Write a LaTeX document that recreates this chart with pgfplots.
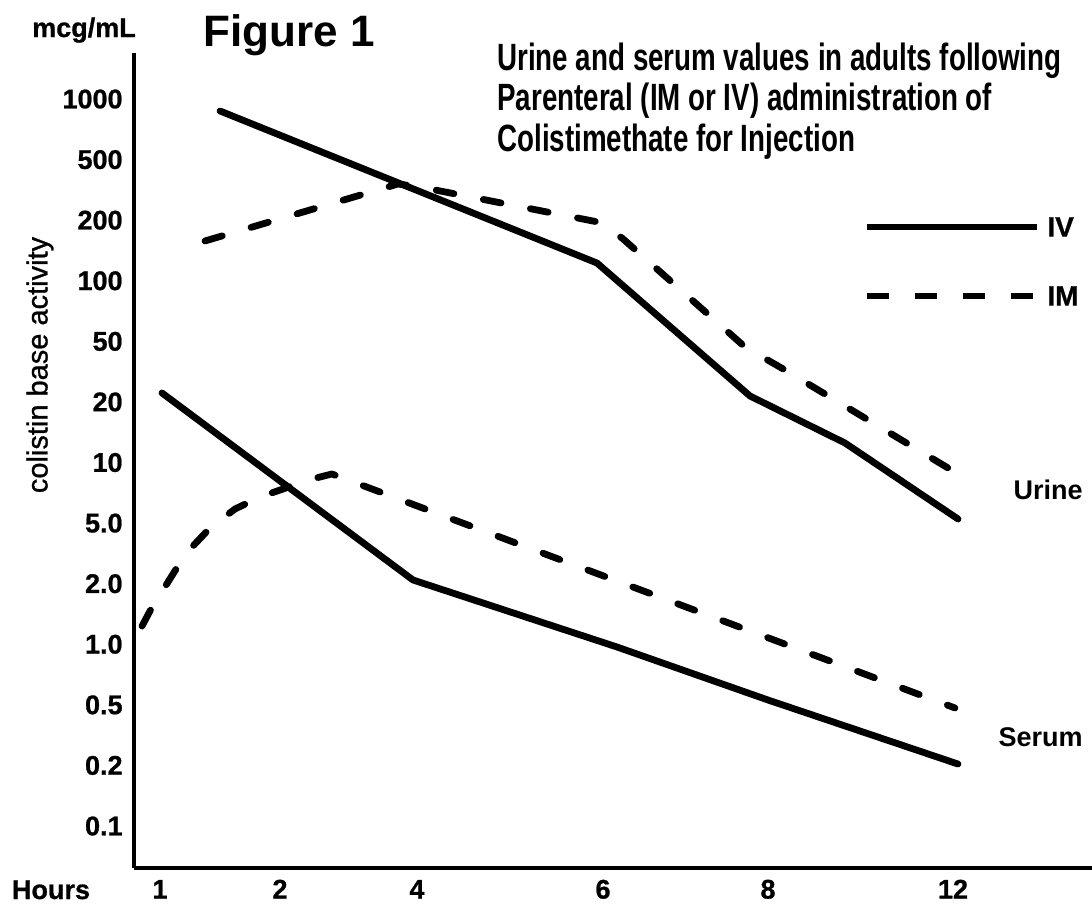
\documentclass[border=0pt]{standalone}
\usepackage{fontspec}
\setmainfont{Liberation Sans}
\newfontfamily\condfont[FakeStretch=0.73]{Liberation Sans}
\newfontfamily\heavyfont[BoldFeatures={FakeBold=0.8}]{Liberation Sans}
\newfontfamily\medfont[FakeBold=0.9]{Liberation Sans}
\usepackage{pgfplots}
\pgfplotsset{compat=1.18}
\begin{document}
\begin{tikzpicture}
\begin{axis}[
  x=0.5pt, y=30.29pt,
  xmin=134, xmax=1092, ymin=-0.693, ymax=12.76,
  axis x line=bottom, axis y line=left,
  axis line style={line width=1.8pt, -},
  xtick={160,280,417,603,768,953},
  xticklabels={1,2,4,6,8,12},
  ytick={0,1,2,3,4,5,6,7,8,9,10,11,12},
  yticklabels={0.1,0.2,0.5,1.0,2.0,5.0,10,20,50,100,200,500,1000},
  major tick length=0pt,
  /pgf/number format/assume math mode=true,
  tick label style={font=\heavyfont\bfseries\fontsize{13.5}{13.5}\selectfont},
  yticklabel style={anchor=east, inner sep=0pt, xshift=-5.5pt},
  xticklabel style={anchor=base, inner sep=0pt, yshift=-15.3pt},
  clip=false,
  cycle list={{black, no markers}},
  every axis plot/.append style={black, no markers, line width=3.4pt, line cap=round, line join=round},
]
% Urine, IV
\addplot[black, no markers, solid] coordinates {(220,11.803) (597,9.293) (750,7.098) (845,6.322) (958,5.068)};
% Urine, IM
\addplot[black, no markers, dash pattern=on 9pt off 15pt] coordinates {(205,9.657) (398,10.598) (420,10.548) (598,9.970) (622,9.706) (745,7.907) (785,7.527) (958,5.811)};
% Serum, IV
\addplot[black, no markers, solid] coordinates {(162,7.148) (413,4.061) (617,2.955) (768,2.080) (958,1.023)};
% Serum, IM
\addplot[black, no markers, dash pattern=on 9pt off 15pt] coordinates {(142,3.300) (150,3.549) (163,3.896) (178,4.292) (193,4.622) (210,4.919) (235,5.233) (260,5.431) (283,5.563) (308,5.711) (332,5.811) (955,1.948)};
% legend samples
\addplot[black, no markers, solid, line cap=butt] coordinates {(867,9.888) (1037,9.888)};
\addplot[black, no markers, line cap=butt, dash pattern=on 11pt off 13pt] coordinates {(867,8.749) (1037,8.749)};
\node[anchor=west, inner sep=0pt, font=\heavyfont\bfseries\fontsize{14}{14}\selectfont] at (axis cs:1047,9.888) {IV};
\node[anchor=west, inner sep=0pt, font=\heavyfont\bfseries\fontsize{14}{14}\selectfont] at (axis cs:1047,8.749) {IM};
% labels
\node[anchor=east, inner sep=0pt, font=\bfseries\fontsize{13.5}{13.5}\selectfont] at (axis cs:1083,5.55) {Urine};
\node[anchor=east, inner sep=0pt, font=\bfseries\fontsize{13.5}{13.5}\selectfont] at (axis cs:1083,1.469) {Serum};
\node[anchor=base, inner sep=0pt, font=\heavyfont\bfseries\fontsize{13.5}{13.5}\selectfont] at (axis cs:51,-1.205) {Hours};
\node[anchor=base, inner sep=0pt, font=\heavyfont\bfseries\fontsize{13.5}{13.5}\selectfont] at (axis cs:84,13.024) {mcg/mL};
\node[anchor=base west, inner sep=0pt, font=\bfseries\fontsize{22}{22}\selectfont] at (axis cs:203,12.859) {Figure 1};
\node[anchor=center, rotate=90, inner sep=0pt, font=\medfont\fontsize{14.5}{14.5}\selectfont] at (axis cs:40,7.61) {colistin base activity};
\node[anchor=base west, inner sep=0pt, font=\condfont\bfseries\fontsize{19}{19}\selectfont] at (axis cs:497,12.479) {Urine and serum values in adults following};
\node[anchor=base west, inner sep=0pt, font=\condfont\bfseries\fontsize{19}{19}\selectfont] at (axis cs:497,11.811) {Parenteral (IM or IV) administration of};
\node[anchor=base west, inner sep=0pt, font=\condfont\bfseries\fontsize{19}{19}\selectfont] at (axis cs:497,11.142) {Colistimethate for Injection};
\coordinate (bl) at (axis cs:0,-1.2711);
\coordinate (tr) at (axis cs:1092,13.6349);
\end{axis}
\pgfresetboundingbox
\path (bl) rectangle (tr);
\end{tikzpicture}
\end{document}
